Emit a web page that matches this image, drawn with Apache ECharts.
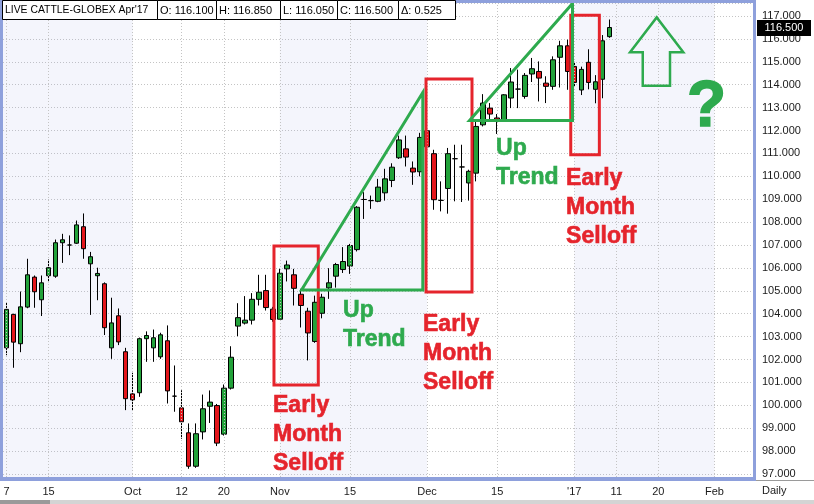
<!DOCTYPE html>
<html><head><meta charset="utf-8">
<script src="https://cdn.jsdelivr.net/npm/echarts@6/dist/echarts.min.js"></script>
<style>html,body{margin:0;padding:0;background:#fff}#c{width:814px;height:504px}</style>
</head><body><div id="c"></div>
<script>
// ---- candle data (trading days from 7 Sep 2016, index 0) ----
const open  = [102.51,103.97,102.69,104.29,105.60,104.61,105.66,105.64,107.10,107.00,107.08,107.80,106.18,105.66,105.31,102.51,103.91,102.34,100.50,100.55,102.91,102.51,102.12,102.82,100.40,99.89,98.80,97.34,98.84,99.96,99.99,98.74,100.75,103.46,103.59,103.72,104.63,105.01,104.20,103.76,105.96,105.70,104.85,104.11,102.79,104.02,105.13,105.64,105.93,106.08,106.80,108.99,108.94,108.91,109.28,109.82,110.81,111.20,110.36,110.20,111.99,110.99,108.95,109.47,110.77,110.41,109.71,110.14,112.25,112.98,112.55,112.47,113.42,113.81,113.49,114.47,114.58,114.07,113.93,115.20,115.70,114.80,113.77,114.98,113.80,114.24,116.10];
const high  = [104.48,104.00,104.97,106.40,105.67,105.67,106.37,107.24,107.49,107.42,108.07,108.38,106.70,106.01,105.37,104.70,104.23,102.51,101.42,102.96,103.23,103.31,103.17,103.49,101.74,100.66,99.21,99.21,100.47,100.65,100.06,100.91,102.58,104.46,104.77,104.90,105.70,105.70,104.30,105.96,106.32,105.96,105.09,104.26,104.79,104.87,105.99,106.22,106.91,107.05,108.70,109.31,109.16,109.89,110.33,110.57,111.78,111.78,110.65,111.90,112.05,111.16,109.78,111.24,111.38,111.38,110.29,112.40,113.59,113.20,112.72,113.59,114.73,114.66,114.51,115.17,115.02,114.37,115.24,115.92,115.97,115.00,114.79,115.55,114.42,116.17,116.85];
const low   = [102.19,101.64,102.32,104.24,104.26,103.90,105.38,105.57,106.22,106.56,107.05,106.40,103.95,104.59,103.07,102.03,102.63,99.79,99.79,100.37,101.90,101.90,102.03,100.08,99.72,98.54,97.23,97.27,98.51,99.23,98.22,98.68,100.69,103.02,103.53,103.53,104.36,104.14,103.65,103.76,105.41,104.36,103.40,101.96,102.73,103.80,104.65,105.14,105.78,105.74,106.72,108.14,108.58,108.87,108.94,109.53,110.76,110.43,109.63,110.00,111.20,108.54,108.47,108.37,108.91,108.88,108.94,109.78,112.18,112.47,111.85,112.43,112.98,112.98,113.39,114.12,113.27,113.20,113.78,113.88,113.78,113.90,113.55,113.80,113.19,113.41,116.05];
const close = [104.19,102.76,104.30,105.70,104.96,105.35,106.01,107.10,107.23,107.00,107.88,106.84,106.49,105.76,103.39,103.60,102.77,100.29,100.24,102.91,103.05,102.95,103.08,100.63,100.40,99.28,97.34,98.76,99.85,100.14,98.35,100.75,102.10,103.83,103.72,104.63,104.94,104.27,103.75,105.77,106.13,105.11,104.36,103.16,104.50,104.72,105.35,106.15,106.28,106.98,108.65,108.99,108.94,109.53,109.89,110.40,111.59,110.84,110.19,111.70,111.29,108.98,108.95,110.99,110.77,110.41,110.22,112.18,113.20,112.72,112.47,113.56,114.12,113.81,114.41,114.70,114.29,113.93,115.09,115.70,114.58,114.10,114.67,114.10,114.13,115.92,116.50];
const slotCount = 107;
const tickIndex = [0,6,18,25,31,39,49,60,70,81,87,93,101];
const tickText  = ['7','15','Oct','12','20','Nov','15','Dec','15',"'17",'11','20','Feb'];
const lastPrice = 116.5;
const header = ["LIVE CATTLE-GLOBEX Apr'17","O: 116.100","H: 116.850","L: 116.050","C: 116.500","\u0394: 0.525"];
// month shading spans (slot units)
const shadeSpans = [[0,18.5],[39.5,60.5],[81.5,101.5]];
// annotations in data units (x: slot units, candle i centred at i+0.5; y: price)
const redBoxes = [[38.66,106.96,44.98,100.89],[60.35,114.25,66.91,104.95],[81.0,117.04,85.08,110.94]];
const greenTriangles = [[[42.59,105.035],[59.89,113.66],[59.89,105.035]],[[66.56,112.44],[81.25,117.55],[81.25,112.44]]];
const upArrow = [[93.26,116.94],[97.06,115.415],[95.16,115.415],[95.16,113.96],[91.27,113.96],[91.27,115.415],[89.46,115.415]];
const noteText = ['Early\nMonth\nSelloff','Early\nMonth\nSelloff','Early\nMonth\nSelloff','Up\nTrend','Up\nTrend','?'];
const noteColor = ['red','red','red','green','green','green'];
const noteAt = [[38.52,100.60],[59.92,104.14],[80.33,110.52],[48.51,104.75],[70.34,111.83],[100.37,112.98]];

const GREEN='#22a23a', RED='#e3161b', AG='#2eaa4e', AR='#e5242c';
const FONT='"Liberation Sans", Arial, sans-serif';
const categories = Array.from({length:slotCount},(_,i)=>String(i));
const candles = open.map((o,i)=>[o,close[i],low[i],high[i]]);

const chart = echarts.init(document.getElementById('c'),null,{renderer:'canvas'});
const series = [];
// shading + vertical grid
series.push({type:'line',xAxisIndex:1,yAxisIndex:0,data:[],symbol:'none',silent:true,z:1,
  markArea:{silent:true,itemStyle:{color:'rgba(160,170,230,0.116)'},data:shadeSpans.map(s=>[{xAxis:s[0]},{xAxis:s[1]}])},
  markLine:{silent:true,symbol:'none',label:{show:false},lineStyle:{color:'#c4c4c4',type:[1,2],width:1},
    data:tickIndex.map(i=>({xAxis:i+0.5}))}
});
series.push({type:'candlestick',xAxisIndex:0,yAxisIndex:0,data:candles,barWidth:5,z:3,
  itemStyle:{color:GREEN,color0:RED,borderColor:'#000',borderColor0:'#000',borderColorDoji:'#000',borderWidth:1}
});
redBoxes.forEach(b=>{
  series.push({type:'line',xAxisIndex:1,yAxisIndex:0,symbol:'none',z:5,silent:true,
    lineStyle:{color:AR,width:3,join:'miter'},
    data:[[b[0],b[1]],[b[2],b[1]],[b[2],b[3]],[b[0],b[3]],[b[0],b[1]],[b[2],b[1]]]});
});
greenTriangles.forEach(t=>{
  series.push({type:'line',xAxisIndex:1,yAxisIndex:0,symbol:'none',z:5,silent:true,
    lineStyle:{color:AG,width:3,join:'miter'},data:[...t,t[0],t[1]]});
});
series.push({type:'line',xAxisIndex:1,yAxisIndex:0,symbol:'none',z:5,silent:true,
  lineStyle:{color:AG,width:2.5,join:'miter'},data:[...upArrow,upArrow[0],upArrow[1]]});

chart.setOption({
  animation:false,
  backgroundColor:'#fff',
  grid:{left:3,top:3,width:750,height:474,show:false},
  xAxis:[
    {type:'category',data:categories,boundaryGap:true,gridIndex:0,
     axisLine:{show:false},axisTick:{show:false},splitLine:{show:false},
     axisLabel:{interval:(i)=>tickIndex.includes(i),formatter:(v,i)=>{const k=tickIndex.indexOf(+v);return k>=0?tickText[k]:'';},
       margin:9,fontSize:11,color:'#1a1a1a',fontFamily:FONT,hideOverlap:false}},
    {type:'value',min:0,max:slotCount,gridIndex:0,show:false}
  ],
  yAxis:[{type:'value',position:'right',min:96.87,max:117.57,minInterval:1,maxInterval:1,splitNumber:20,scale:true,
    axisLine:{show:false},axisTick:{show:false},
    axisLabel:{margin:9,fontSize:11,color:'#1a1a1a',fontFamily:FONT,showMinLabel:false,showMaxLabel:false,
      formatter:(v)=>Math.abs(v-Math.round(v))<1e-6?Math.round(v).toFixed(3):''},
    splitLine:{show:true,lineStyle:{color:'#c4c4c4',type:[1,2],width:1}}}],
  series
});

// chrome + notes
const g = [];
const B='#8ea0dc';
g.push({type:'rect',shape:{x:0,y:0,width:756,height:3},style:{fill:B},z:10});
g.push({type:'rect',shape:{x:0,y:0,width:3,height:481},style:{fill:B},z:10});
g.push({type:'rect',shape:{x:753,y:0,width:3,height:481},style:{fill:B},z:10});
g.push({type:'rect',shape:{x:0,y:477,width:756,height:4},style:{fill:B},z:10});
g.push({type:'line',shape:{x1:756,y1:480.5,x2:814,y2:480.5},style:{stroke:'#9a9a9a',lineWidth:1},z:10});
g.push({type:'rect',shape:{x:0,y:500,width:814,height:4},style:{fill:'#d4d4d4'},z:10});
g.push({type:'rect',shape:{x:0,y:500,width:50,height:4},style:{fill:'#9a9a9a'},z:10});
g.push({type:'text',x:762,y:491,style:{text:'Daily',fill:'#1a1a1a',font:'11px '+FONT,textVerticalAlign:'middle'},z:10});
// last price tag, placed through the price scale
const py = chart.convertToPixel({yAxisIndex:0},lastPrice);
g.push({type:'rect',shape:{x:757,y:Math.round(py)-8,width:54,height:16},style:{fill:'#000'},z:12});
g.push({type:'text',x:784,y:Math.round(py),style:{text:lastPrice.toFixed(3),fill:'#fff',font:'11px '+FONT,textAlign:'center',textVerticalAlign:'middle'},z:13});
const hw=[155,59,64,57,61,57];
let hx=2;
header.forEach((t,i)=>{
  g.push({type:'rect',shape:{x:hx+0.5,y:0.5,width:hw[i],height:19},style:{fill:'#fff',stroke:'#000',lineWidth:1},z:20});
  g.push({type:'text',x:hx+3,y:10.5,style:{text:t,fill:'#000',font:(i===0?'10.4px ':'11px ')+FONT,textVerticalAlign:'middle'},z:21});
  hx+=hw[i];
});
noteText.forEach((t,i)=>{
  const p = chart.convertToPixel({xAxisIndex:1,yAxisIndex:0},noteAt[i]);
  const col = noteColor[i]==='red'?AR:AG;
  if(t==='?'){
    g.push({type:'text',x:p[0],y:p[1],style:{text:t,fill:col,font:'bold 64px '+FONT,textAlign:'center',textVerticalAlign:'middle',stroke:col,lineWidth:1.5},z:6});
  } else {
    g.push({type:'text',x:p[0],y:p[1],style:{text:t,fill:col,font:'bold 23px '+FONT,lineHeight:29,textAlign:'left',textVerticalAlign:'top',stroke:col,lineWidth:0.6},z:6});
  }
});
chart.setOption({graphic:g});
</script></body></html>
